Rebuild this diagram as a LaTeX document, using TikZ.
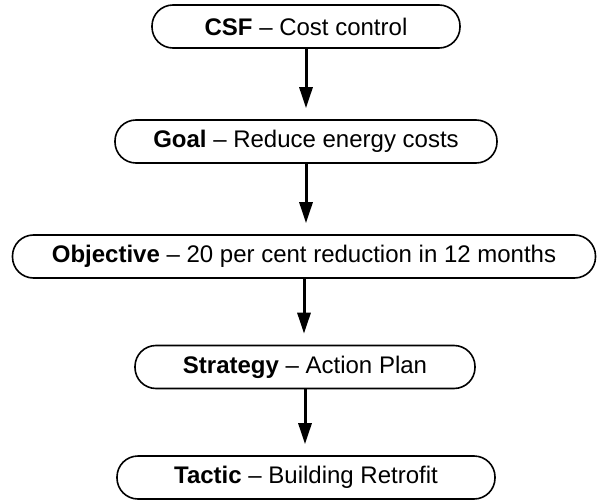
\documentclass[tikz,border=0pt]{standalone}
\usepackage{fontspec}
\setmainfont{Liberation Sans}
\usepackage{tikz}
\usetikzlibrary{arrows.meta}

\begin{document}
\begin{tikzpicture}[x=1pt, y=1pt,
    level/.style={draw, line width=1.6pt, rounded corners=21pt, minimum height=43pt,
                  inner sep=0pt, font=\fontsize{24}{28}\selectfont},
    flow/.style={line width=3pt, -{Triangle[length=21pt,width=13pt]}, shorten >=11pt}]

\useasboundingbox (0,0) rectangle (597,-500);

% Planning levels, top to bottom
\node[level, minimum width=308pt] (csf) at (306,-26.5) {\textbf{CSF} -- Cost control};
\node[level, minimum width=382pt] (goal) at (306,-141.5) {\textbf{Goal} -- Reduce energy costs};
\node[level, minimum width=583pt] (objective) at (304,-256.5) {\textbf{Objective} -- 20 per cent reduction in 12 months};
\node[level, minimum width=340pt] (strategy) at (305,-367) {\textbf{Strategy} -- Action Plan};
\node[level, minimum width=378pt] (tactic) at (306,-477.5) {\textbf{Tactic} -- Building Retrofit};

% Arrows between levels
\foreach \a/\b in {csf/goal, goal/objective, objective/strategy, strategy/tactic} {
    \draw[flow] (\a.south) -- (\a.south |- \b.north);
}

\end{tikzpicture}
\end{document}
